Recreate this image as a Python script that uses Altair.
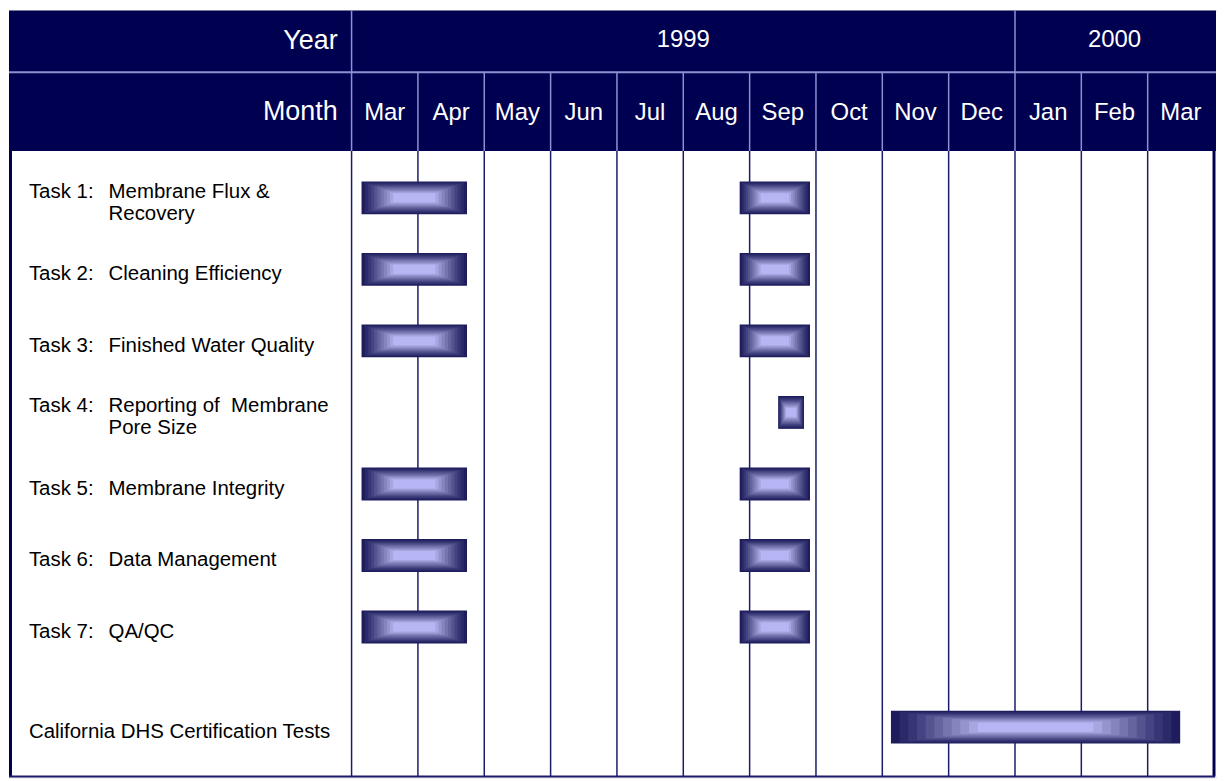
import altair as alt
import pandas as pd

# ---------------- data ----------------
month_names = ["Mar", "Apr", "May", "Jun", "Jul", "Aug", "Sep", "Oct", "Nov", "Dec", "Jan", "Feb", "Mar"]
year_labels = ["1999", "2000"]
year_first_month = [0, 10]
year_last_month = [10, 13]
header_labels = ["Year", "Month"]

task_prefix = ["Task 1:", "Task 2:", "Task 3:", "Task 4:", "Task 5:", "Task 6:", "Task 7:",
               "California DHS Certification Tests"]
task_line1 = ["Membrane Flux &", "Cleaning Efficiency", "Finished Water Quality",
              "Reporting of\u00a0 Membrane", "Membrane Integrity", "Data Management", "QA/QC", ""]
task_line2 = ["Recovery", "", "", "Pore Size", "", "", "", ""]
task_row = [1, 2, 3, 4, 5, 6, 7, 8.4]

# bars: row, start, end (months elapsed since 1 Mar 1999)
bar_row = [1, 1, 2, 2, 3, 3, 4, 5, 5, 6, 6, 7, 7, 8.4]
bar_start = [0.15, 5.85, 0.15, 5.85, 0.15, 5.85, 6.43, 0.15, 5.85, 0.15, 5.85, 0.15, 5.85, 8.13]
bar_end = [1.74, 6.91, 1.74, 6.91, 1.74, 6.91, 6.82, 1.74, 6.91, 1.74, 6.91, 1.74, 6.91, 12.49]

# ---------------- tables ----------------
months_df = pd.DataFrame({"m": list(range(13)), "name": month_names})
bounds_df = pd.DataFrame({"b": list(range(14))})
years_df = pd.DataFrame({"year": year_labels, "s": year_first_month, "e": year_last_month})
tasks_df = pd.DataFrame({"prefix": task_prefix, "l1": task_line1, "l2": task_line2, "row": task_row})
bars_df = pd.DataFrame({"row": bar_row, "start": bar_start, "end": bar_end})
one = pd.DataFrame({"k": [0]})

# ---------------- style ----------------
W, H = 1213, 770
NAVY = "#000050"
LAV = "#9090d0"
LINE = "#1c1c6c"
FONT = "Liberation Sans"
HEAD_BOT, SPLIT, BODY_BOT = 141, 62, 769

xs = alt.Scale(domain=[0, 13], range=[344, 1210])
ys = alt.Scale(domain=[1, 7], range=[183, 624])

layers = []

# header background
layers.append(alt.Chart(one).mark_rect(color=NAVY).encode(
    x=alt.value(0), x2=alt.value(W - 1), y=alt.value(0), y2=alt.value(HEAD_BOT)))

# header horizontal split
layers.append(alt.Chart(one).mark_rule(color=LAV, strokeWidth=2).encode(
    x=alt.value(0), x2=alt.value(W - 1), y=alt.value(SPLIT)))

# header month dividers
layers.append(alt.Chart(bounds_df).transform_filter(
    "datum.b > 0 && datum.b < 13 && datum.b != 10").mark_rule(color=LAV, strokeWidth=1.5).encode(
    x=alt.X("b:Q", scale=xs, axis=None), y=alt.value(SPLIT), y2=alt.value(HEAD_BOT)))
# header year dividers
layers.append(alt.Chart(bounds_df).transform_filter(
    "datum.b == 0 || datum.b == 10").mark_rule(color=LAV, strokeWidth=1.5).encode(
    x=alt.X("b:Q", scale=xs, axis=None), y=alt.value(0), y2=alt.value(HEAD_BOT)))

# body month lines
layers.append(alt.Chart(bounds_df).transform_filter("datum.b < 13").mark_rule(
    color=LINE, strokeWidth=1.5).encode(
    x=alt.X("b:Q", scale=xs, axis=None), y=alt.value(HEAD_BOT), y2=alt.value(BODY_BOT)))
# right border
layers.append(alt.Chart(bounds_df).transform_filter("datum.b == 13").mark_rule(
    color=NAVY, strokeWidth=3).encode(
    x=alt.X("b:Q", scale=xs, axis=None), y=alt.value(HEAD_BOT), y2=alt.value(BODY_BOT)))
# left border
layers.append(alt.Chart(one).mark_rule(color=NAVY, strokeWidth=3).encode(
    x=alt.value(1.5), y=alt.value(HEAD_BOT), y2=alt.value(BODY_BOT)))
# bottom border
layers.append(alt.Chart(one).mark_rule(color=LINE, strokeWidth=2).encode(
    x=alt.value(0), x2=alt.value(1211), y=alt.value(BODY_BOT)))

# header texts
layers.append(alt.Chart(pd.DataFrame({"t": header_labels, "i": [0, 1]})).transform_filter(
    "datum.i == 0").mark_text(align="right", baseline="alphabetic", font=FONT, fontSize=27,
                              color="white").encode(
    x=alt.value(330), y=alt.value(39), text="t:N"))
layers.append(alt.Chart(pd.DataFrame({"t": header_labels, "i": [0, 1]})).transform_filter(
    "datum.i == 1").mark_text(align="right", baseline="alphabetic", font=FONT, fontSize=27,
                              color="white").encode(
    x=alt.value(330), y=alt.value(110), text="t:N"))

# year labels
layers.append(alt.Chart(years_df).transform_calculate(mid="(datum.s + datum.e) / 2").mark_text(
    align="center", baseline="alphabetic", font=FONT, fontSize=24, color="white").encode(
    x=alt.X("mid:Q", scale=xs, axis=None), y=alt.value(37), text="year:N"))

# month labels
layers.append(alt.Chart(months_df).transform_calculate(mid="datum.m + 0.5").mark_text(
    align="center", baseline="alphabetic", font=FONT, fontSize=24, color="white").encode(
    x=alt.X("mid:Q", scale=xs, axis=None), y=alt.value(110), text="name:N"))

# task labels
lab = alt.Chart(tasks_df).transform_calculate(
    ly="datum.row + (datum.l2 != '' ? 0 : 0.15)")
layers.append(lab.mark_text(align="left", baseline="alphabetic", font=FONT, fontSize=20.5,
                            color="black").encode(
    x=alt.value(20), y=alt.Y("ly:Q", scale=ys, axis=None), text="prefix:N"))
layers.append(lab.mark_text(align="left", baseline="alphabetic", font=FONT, fontSize=20.5,
                            color="black").encode(
    x=alt.value(100), y=alt.Y("ly:Q", scale=ys, axis=None), text="l1:N"))
layers.append(lab.mark_text(align="left", baseline="alphabetic", font=FONT, fontSize=20.5,
                            color="black", dy=22).encode(
    x=alt.value(100), y=alt.Y("ly:Q", scale=ys, axis=None), text="l2:N"))

# gradient bars: concentric rectangles
ring_colors = ["#1e1c5c", "#2a2a68", "#363675", "#444482", "#545490", "#64649e",
               "#7474ae", "#8585be", "#9595ce", "#a6a6e0", "#b6b6f4"]
for k, c in enumerate(ring_colors):
    f = 0.03 * k
    h = 33 - 2.4 * k
    layers.append(alt.Chart(bars_df).transform_calculate(
        s=f"datum.start + {f} * (datum.end - datum.start)",
        e=f"datum.end - {f} * (datum.end - datum.start)").mark_bar(
        color=c, size=h, orient="horizontal").encode(
        x=alt.X("s:Q", scale=xs, axis=None), x2="e:Q",
        y=alt.Y("row:Q", scale=ys, axis=None)))

chart = alt.layer(*layers).properties(width=W, height=H, padding=0).configure_view(
    stroke=None).configure(background="white")

chart.save("out.html", embed_options={"renderer": "svg", "actions": False})
